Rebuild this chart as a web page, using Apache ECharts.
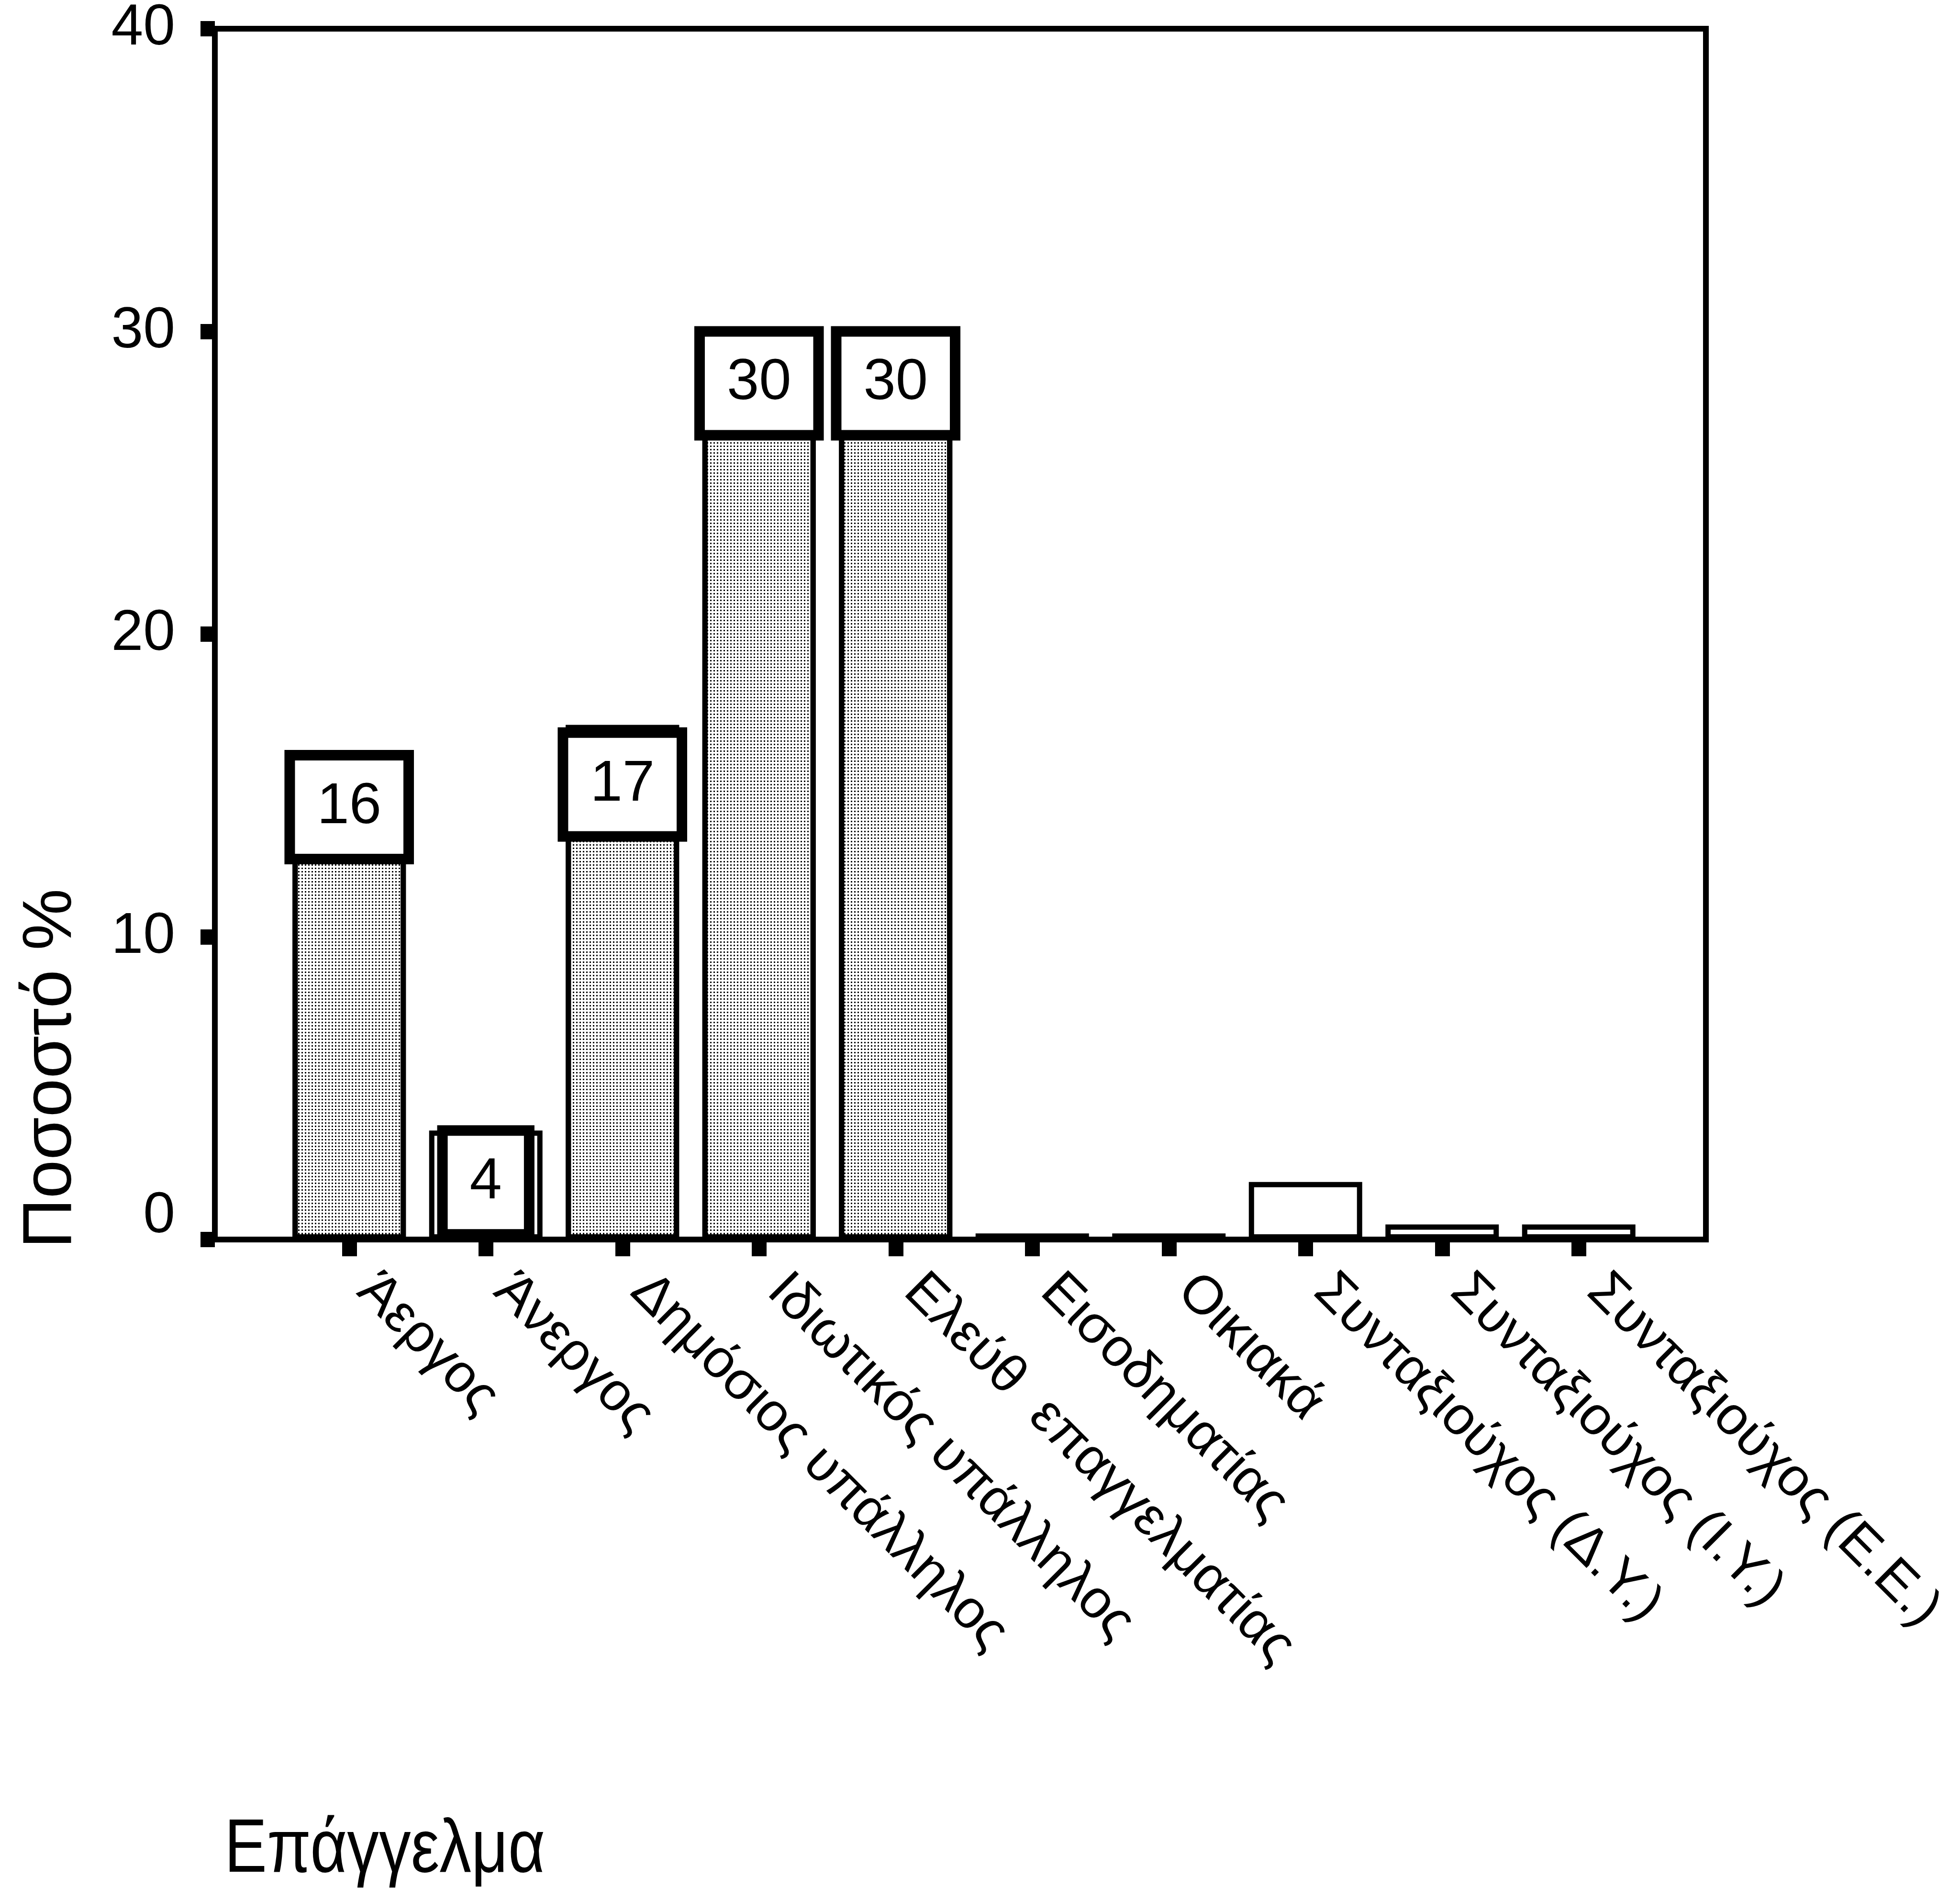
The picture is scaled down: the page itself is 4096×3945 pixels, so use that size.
<!DOCTYPE html>
<html>
<head>
<meta charset="utf-8">
<script src="https://cdn.jsdelivr.net/npm/echarts@6/dist/echarts.min.js"></script>
<style>
  html, body { margin: 0; padding: 0; background: #ffffff; }
  #chart { width: 4096px; height: 3945px; }
</style>
</head>
<body>
<div id="chart"></div>
<script>
// ---------- data ----------
const categories = [
  'Άεργος',
  'Άνεργος',
  'Δημόσιος υπάλληλος',
  'Ιδιωτικός υπάλληλος',
  'Ελεύθ  επαγγελματίας',
  'Εισοδηματίας',
  'Οικιακά',
  'Συνταξιούχος (Δ.Υ.)',
  'Συνταξιούχος (Ι.Υ.)',
  'Συνταξιούχος (Ε.Ε.)'
];
const percentages = [16.0, 3.6, 17.0, 30.0, 30.0, 0.2, 0.2, 1.9, 0.5, 0.5];
const yTicks = [0, 10, 20, 30, 40];
const yTitle = 'Ποσοστό %';
const xTitle = 'Επάγγελμα';

// ---------- style ----------
const FONT = '"Liberation Sans", Arial, sans-serif';
const LINE_W = 12;
const shadedBars = new Set([0, 2, 3, 4]);
const labelledBars = new Set([0, 1, 2, 3, 4]);
const labelDistance = { 2: 27 };

const frame = { left: 449, top: 60, width: 3116, height: 2530 };
const barGrid = { left: 587, top: 60, width: 2855, height: 2530 };

const stipple = {
  symbol: 'rect', symbolSize: 1, color: '#000000',
  dashArrayX: [[3, 4]], dashArrayY: [3, 4], rotation: 0
};

const barData = percentages.map((v, i) => ({
  value: v,
  itemStyle: shadedBars.has(i)
    ? { color: '#ffffff', borderColor: '#000', borderWidth: 11, decal: stipple }
    : { color: '#ffffff', borderColor: '#000', borderWidth: 11 },
  label: labelledBars.has(i)
    ? { show: true, distance: labelDistance[i] !== undefined ? labelDistance[i] : 11 }
    : { show: false }
}));

const chart = echarts.init(document.getElementById('chart'), null, { renderer: 'canvas' });

const option = {
  backgroundColor: '#ffffff',
  animation: false,
  grid: [
    Object.assign({ show: true, borderColor: '#000', borderWidth: LINE_W, backgroundColor: 'transparent',
      containLabel: false, outerBoundsMode: 'none' }, frame),
    Object.assign({ show: false, containLabel: false, outerBoundsMode: 'none' }, barGrid)
  ],
  xAxis: [
    {
      gridIndex: 0, type: 'value', min: 0, max: 1,
      axisLine: { show: true, onZero: false, lineStyle: { color: '#000', width: LINE_W } },
      axisTick: { show: false }, axisLabel: { show: false }, splitLine: { show: false }
    },
    {
      gridIndex: 1, type: 'category', data: categories, boundaryGap: true,
      axisLine: { show: false },
      axisTick: { show: true, alignWithLabel: true, length: 35, lineStyle: { color: '#000', width: 31 } },
      axisLabel: {
        show: true, interval: 0, rotate: -45, margin: 55, padding: [0, 0, 0, 50],
        color: '#000', fontFamily: FONT, fontSize: 113
      },
      splitLine: { show: false }
    }
  ],
  yAxis: [
    {
      gridIndex: 0, type: 'value',
      min: yTicks[0], max: yTicks[yTicks.length - 1], interval: yTicks[1] - yTicks[0],
      axisLine: { show: true, lineStyle: { color: '#000', width: LINE_W } },
      axisTick: { show: true, length: 30, lineStyle: { color: '#000', width: 32 } },
      axisLabel: {
        show: true, margin: 83, color: '#000', fontFamily: FONT, fontSize: 120, lineHeight: 96,
        formatter: v => (v === 0 ? '0\n ' : String(v))
      },
      splitLine: { show: false }
    },
    {
      gridIndex: 1, type: 'value',
      min: yTicks[0], max: yTicks[yTicks.length - 1], interval: yTicks[1] - yTicks[0],
      show: false, splitLine: { show: false }
    }
  ],
  series: [
    {
      type: 'bar', xAxisIndex: 1, yAxisIndex: 1,
      data: barData,
      barWidth: '83%',
      label: {
        show: false, position: 'insideTop',
        formatter: p => String(Math.round(p.value)),
        color: '#000', fontFamily: FONT, fontSize: 121, lineHeight: 121,
        backgroundColor: '#ffffff', borderColor: '#000', borderWidth: 22,
        padding: [37, 46]
      },
      emphasis: { disabled: true }
    }
  ],
  graphic: [
    {
      type: 'text', x: 108, y: 2233, rotation: Math.PI / 2,
      style: {
        text: yTitle, fill: '#000', fontFamily: FONT, fontSize: 145,
        align: 'center', verticalAlign: 'middle', textAlign: 'center', textVerticalAlign: 'middle'
      }
    },
    {
      type: 'text', x: 469, y: 3868, scaleX: 0.85,
      style: {
        text: xTitle, fill: '#000', fontFamily: FONT, fontSize: 157,
        align: 'left', verticalAlign: 'middle', textAlign: 'left', textVerticalAlign: 'middle'
      }
    }
  ]
};

chart.setOption(option);
</script>
</body>
</html>
